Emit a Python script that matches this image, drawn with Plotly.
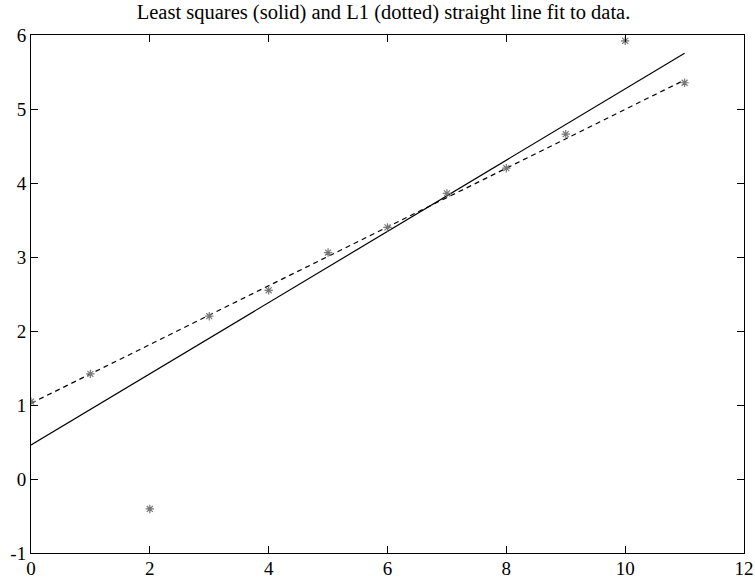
import itertools
import numpy as np
import plotly.graph_objects as go

# Observed data
x_data = [0, 1, 2, 3, 4, 5, 6, 7, 8, 9, 10, 11]
y_data = [1.045, 1.42, -0.405, 2.20, 2.55, 3.06, 3.40, 3.86, 4.20, 4.66, 5.92, 5.355]

x_ticks = [0, 2, 4, 6, 8, 10, 12]
y_ticks = [-1, 0, 1, 2, 3, 4, 5, 6]
x_tick_labels = ["0", "2", "4", "6", "8", "10", "12"]
y_tick_labels = ["-1", "0", "1", "2", "3", "4", "5", "6"]

title_text = "Least squares (solid) and L1 (dotted) straight line fit to data."

xa = np.array(x_data, dtype=float)
ya = np.array(y_data, dtype=float)

# Least squares fit
ls_slope, ls_icept = np.polyfit(xa, ya, 1)

# L1 fit: an optimal L1 line passes through two of the data points
best = None
for i, j in itertools.combinations(range(len(xa)), 2):
    if xa[i] == xa[j]:
        continue
    m = (ya[j] - ya[i]) / (xa[j] - xa[i])
    b = ya[i] - m * xa[i]
    err = np.abs(ya - (m * xa + b)).sum()
    if best is None or err < best[0]:
        best = (err, m, b)
_, l1_slope, l1_icept = best

x_line = [xa.min(), xa.max()]

fig = go.Figure()
fig.add_trace(go.Scatter(
    x=x_line, y=[ls_slope * v + ls_icept for v in x_line],
    mode="lines", line=dict(color="black", width=1.2),
    showlegend=False, hoverinfo="skip"))
fig.add_trace(go.Scatter(
    x=x_line, y=[l1_slope * v + l1_icept for v in x_line],
    mode="lines", line=dict(color="black", width=1.2, dash="5px,4px"),
    showlegend=False, hoverinfo="skip"))
fig.add_trace(go.Scatter(
    x=x_data, y=y_data, mode="markers",
    marker=dict(symbol="asterisk", size=7, color="#777777",
                line=dict(color="#777777", width=1.2)),
    showlegend=False))

serif = "Times New Roman, Liberation Serif, serif"
axis_common = dict(
    showgrid=False, zeroline=False, showline=True, linecolor="black",
    linewidth=1, mirror="ticks", ticks="inside", ticklen=7,
    tickcolor="black", tickwidth=1, automargin=False,
    ticklabeloverflow="allow",
    tickfont=dict(family=serif, size=19, color="black"),
)

fig.update_layout(
    width=755, height=580,
    margin=dict(l=31, r=11, t=35, b=27, autoexpand=False),
    paper_bgcolor="white", plot_bgcolor="white",
    title=dict(text=title_text, x=0.508, xanchor="center", y=0.992, yanchor="top",
               font=dict(family=serif, size=20.5, color="black")),
    xaxis=dict(range=[0, 12], tickvals=x_ticks, ticktext=x_tick_labels,
               ticklabelstandoff=-2, **axis_common),
    yaxis=dict(range=[-1, 6], tickvals=y_ticks, ticktext=y_tick_labels,
               ticklabelstandoff=0, **axis_common),
)

fig.write_html("out.html")
